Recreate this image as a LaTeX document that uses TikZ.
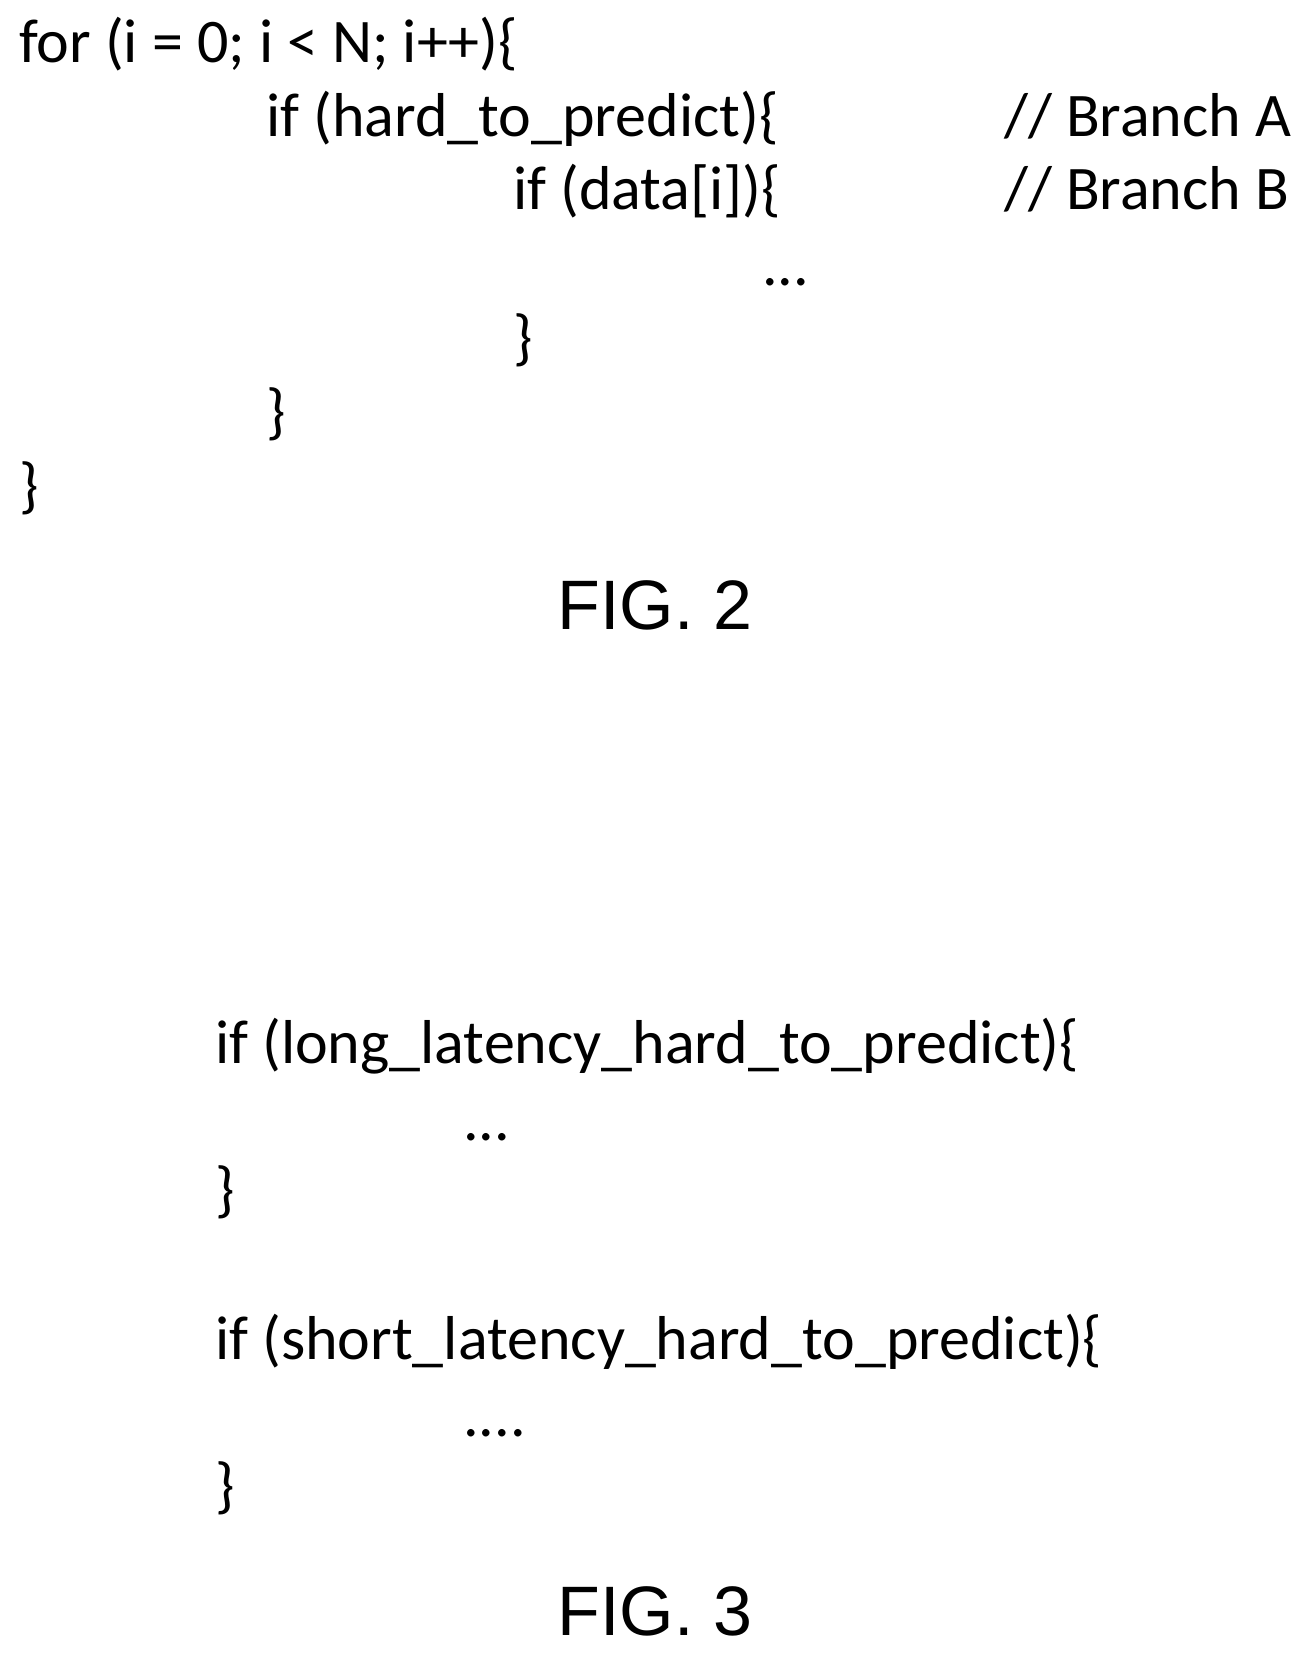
\documentclass[tikz,border=0pt]{standalone}
\usepackage{fontspec}
\setmainfont{Carlito}
\newfontfamily\figfont{Liberation Sans}
\begin{document}
\begin{tikzpicture}[x=1pt,y=-1pt,
  code/.style={anchor=base west,inner sep=0pt,font=\fontsize{62}{70}\selectfont},
  fig/.style={anchor=base,inner sep=0pt,font=\figfont\fontsize{70}{74}\selectfont}]
\useasboundingbox (0,0) rectangle (1308,1656);
\node[code] (l1) at (19,63) {for (i = 0; i < N; i++)\{};
\node[code] (l2) at (266,137) {if (hard\_to\_predict)\{};
\node[code] (c1) at (1004,137) {// Branch A};
\node[code] (l3) at (513,210) {if (data[i])\{};
\node[code] (c2) at (1004,210) {// Branch B};
\node[code] (l4) at (762,285) {...};
\node[code] (l5) at (513,358) {\}};
\node[code] (l6) at (266,432) {\}};
\node[code] (l7) at (19,506) {\}};
\node[fig] (f2) at (655,629) {FIG. 2};
\node[code] (m1) at (215,1063) {if (long\_latency\_hard\_to\_predict)\{};
\node[code] (m2) at (463,1140) {...};
\node[code] (m3) at (215,1210) {\}};
\node[code] (m4) at (215,1359) {if (short\_latency\_hard\_to\_predict)\{};
\node[code] (m5) at (463,1436) {....};
\node[code] (m6) at (215,1506) {\}};
\node[fig] (f3) at (655,1635) {FIG. 3};
\end{tikzpicture}
\end{document}
